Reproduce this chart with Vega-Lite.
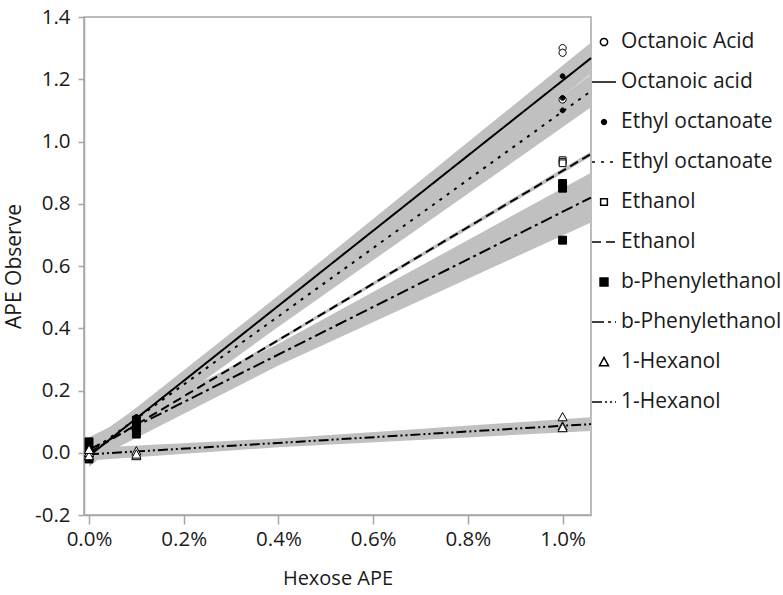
{
  "$schema": "https://vega.github.io/schema/vega-lite/v6.json",
  "width": 507,
  "height": 498,
  "autosize": "none",
  "padding": {"left": 84, "top": 17, "right": 192, "bottom": 80},
  "background": "white",
  "config": {
    "font": "Open Sans",
    "view": {"stroke": "#a6a6a6", "strokeWidth": 1.5},
    "axis": {
      "domainColor": "#a6a6a6", "domainWidth": 1.5, "tickColor": "#a6a6a6", "tickWidth": 1.5,
      "grid": false, "labelFont": "Open Sans", "labelFontSize": 20.5, "labelColor": "#1a1a1a",
      "titleFont": "Open Sans", "titleFontSize": 20, "titleFontWeight": "normal", "titleColor": "#1a1a1a"
    },
    "legend": {
      "labelFont": "Open Sans", "labelFontSize": 21, "labelColor": "#1a1a1a", "labelLimit": 220
    }
  },
  "datasets": {
    "pts": [
      {"series": "Octanoic Acid|p", "x": 0, "y": 0.03},
      {"series": "Octanoic Acid|p", "x": 0, "y": 0.0},
      {"series": "Octanoic Acid|p", "x": 0, "y": -0.01},
      {"series": "Octanoic Acid|p", "x": 0.001, "y": 0.11},
      {"series": "Octanoic Acid|p", "x": 0.001, "y": 0.10},
      {"series": "Octanoic Acid|p", "x": 0.001, "y": 0.09},
      {"series": "Octanoic Acid|p", "x": 0.01, "y": 1.30},
      {"series": "Octanoic Acid|p", "x": 0.01, "y": 1.285},
      {"series": "Octanoic Acid|p", "x": 0.01, "y": 1.135},
      {"series": "Ethyl octanoate|p", "x": 0, "y": 0.02},
      {"series": "Ethyl octanoate|p", "x": 0, "y": 0.0},
      {"series": "Ethyl octanoate|p", "x": 0, "y": -0.02},
      {"series": "Ethyl octanoate|p", "x": 0.001, "y": 0.115},
      {"series": "Ethyl octanoate|p", "x": 0.001, "y": 0.105},
      {"series": "Ethyl octanoate|p", "x": 0.001, "y": 0.095},
      {"series": "Ethyl octanoate|p", "x": 0.01, "y": 1.21},
      {"series": "Ethyl octanoate|p", "x": 0.01, "y": 1.14},
      {"series": "Ethyl octanoate|p", "x": 0.01, "y": 1.10},
      {"series": "Ethanol|p", "x": 0, "y": 0.01},
      {"series": "Ethanol|p", "x": 0, "y": 0.0},
      {"series": "Ethanol|p", "x": 0, "y": -0.02},
      {"series": "Ethanol|p", "x": 0.001, "y": 0.09},
      {"series": "Ethanol|p", "x": 0.001, "y": 0.085},
      {"series": "Ethanol|p", "x": 0.001, "y": 0.08},
      {"series": "Ethanol|p", "x": 0.01, "y": 0.94},
      {"series": "Ethanol|p", "x": 0.01, "y": 0.935},
      {"series": "Ethanol|p", "x": 0.01, "y": 0.93},
      {"series": "b-Phenylethanol|p", "x": 0, "y": 0.035},
      {"series": "b-Phenylethanol|p", "x": 0, "y": 0.01},
      {"series": "b-Phenylethanol|p", "x": 0, "y": -0.02},
      {"series": "b-Phenylethanol|p", "x": 0.001, "y": 0.105},
      {"series": "b-Phenylethanol|p", "x": 0.001, "y": 0.08},
      {"series": "b-Phenylethanol|p", "x": 0.001, "y": 0.06},
      {"series": "b-Phenylethanol|p", "x": 0.01, "y": 0.865},
      {"series": "b-Phenylethanol|p", "x": 0.01, "y": 0.85},
      {"series": "b-Phenylethanol|p", "x": 0.01, "y": 0.683},
      {"series": "1-Hexanol|p", "x": 0, "y": 0.0},
      {"series": "1-Hexanol|p", "x": 0, "y": -0.01},
      {"series": "1-Hexanol|p", "x": 0, "y": 0.01},
      {"series": "1-Hexanol|p", "x": 0.001, "y": 0.005},
      {"series": "1-Hexanol|p", "x": 0.001, "y": -0.01},
      {"series": "1-Hexanol|p", "x": 0.001, "y": -0.005},
      {"series": "1-Hexanol|p", "x": 0.01, "y": 0.115},
      {"series": "1-Hexanol|p", "x": 0.01, "y": 0.085},
      {"series": "1-Hexanol|p", "x": 0.01, "y": 0.08}
    ],
    "fits": [
      {"series": "Octanoic acid|l", "x": 0, "y": -0.01},
      {"series": "Octanoic acid|l", "x": 0.0106, "y": 1.268},
      {"series": "Ethyl octanoate|l", "x": 0, "y": 0.0},
      {"series": "Ethyl octanoate|l", "x": 0.0106, "y": 1.162},
      {"series": "Ethanol|l", "x": 0, "y": 0.0},
      {"series": "Ethanol|l", "x": 0.0106, "y": 0.96},
      {"series": "b-Phenylethanol|l", "x": 0, "y": 0.01},
      {"series": "b-Phenylethanol|l", "x": 0.0106, "y": 0.82},
      {"series": "1-Hexanol|l", "x": 0, "y": -0.005},
      {"series": "1-Hexanol|l", "x": 0.0106, "y": 0.092}
    ],
    "bands": [
      {"series": "Octanoic acid|l", "x": 0, "lo": -0.045, "hi": 0.025},
      {"series": "Octanoic acid|l", "x": 0.004, "lo": 0.44, "hi": 0.505},
      {"series": "Octanoic acid|l", "x": 0.0106, "lo": 1.218, "hi": 1.318},
      {"series": "Ethyl octanoate|l", "x": 0, "lo": -0.035, "hi": 0.035},
      {"series": "Ethyl octanoate|l", "x": 0.004, "lo": 0.405, "hi": 0.47},
      {"series": "Ethyl octanoate|l", "x": 0.0106, "lo": 1.11, "hi": 1.215},
      {"series": "Ethanol|l", "x": 0, "lo": -0.008, "hi": 0.008},
      {"series": "Ethanol|l", "x": 0.004, "lo": 0.357, "hi": 0.367},
      {"series": "Ethanol|l", "x": 0.0106, "lo": 0.952, "hi": 0.968},
      {"series": "b-Phenylethanol|l", "x": 0, "lo": -0.03, "hi": 0.05},
      {"series": "b-Phenylethanol|l", "x": 0.004, "lo": 0.28, "hi": 0.35},
      {"series": "b-Phenylethanol|l", "x": 0.0106, "lo": 0.74, "hi": 0.9},
      {"series": "1-Hexanol|l", "x": 0, "lo": -0.025, "hi": 0.015},
      {"series": "1-Hexanol|l", "x": 0.004, "lo": 0.018, "hi": 0.046},
      {"series": "1-Hexanol|l", "x": 0.0106, "lo": 0.07, "hi": 0.114}
    ]
  },
  "encoding": {
    "x": {
      "field": "x", "type": "quantitative",
      "scale": {"domain": [-0.000106, 0.0106], "nice": false, "zero": false},
      "axis": {"title": "Hexose APE", "values": [0, 0.002, 0.004, 0.006, 0.008, 0.01], "format": ".1%", "tickSize": 9, "labelPadding": 5, "titlePadding": 19}
    }
  },
  "layer": [
    {
      "data": {"name": "bands"},
      "mark": {"type": "area", "color": "#c0c0c0", "opacity": 1},
      "encoding": {
        "y": {"field": "lo", "type": "quantitative", "scale": {"domain": [-0.2, 1.4], "nice": false, "zero": false},
          "axis": {"title": "APE Observe", "titleFontSize": 21, "values": [-0.2, 0, 0.2, 0.4, 0.6, 0.8, 1.0, 1.2, 1.4], "format": ".1f", "labelExpr": "replace(datum.label, '\u2212', '-')", "tickSize": 6, "labelPadding": 8, "titlePadding": 10}},
        "y2": {"field": "hi"},
        "detail": {"field": "series", "type": "nominal"}
      }
    },
    {
      "data": {"name": "fits"},
      "mark": {"type": "line", "color": "black", "strokeWidth": 2},
      "encoding": {
        "y": {"field": "y", "type": "quantitative"},
        "strokeDash": {
          "field": "series", "type": "nominal",
          "scale": {
            "domain": ["Octanoic Acid|p", "Octanoic acid|l", "Ethyl octanoate|p", "Ethyl octanoate|l", "Ethanol|p", "Ethanol|l", "b-Phenylethanol|p", "b-Phenylethanol|l", "1-Hexanol|p", "1-Hexanol|l"],
            "range": [[1, 0], [1, 0], [1, 0], [3, 6], [1, 0], [9, 5], [1, 0], [12, 4, 3, 4], [1, 0], [10, 3, 2, 3, 2, 3]]
          },
          "legend": {
            "title": null, "orient": "none", "legendX": 507, "legendY": 12, "padding": 0,
            "rowPadding": 17, "labelOffset": 4, "symbolSize": 576, "symbolStrokeColor": "black", "symbolStrokeWidth": 1.5,
            "labelLimit": 220,
            "labelExpr": "split(datum.label, '|')[0]",
            "encode": {"symbols": {"update": {"stroke": {"value": "black"}, "strokeWidth": {"value": 1.5}}}}
          }
        }
      }
    },
    {
      "data": {"name": "pts"},
      "mark": {"type": "point", "stroke": "black", "strokeWidth": 1, "opacity": 1, "size": 576},
      "encoding": {
        "y": {"field": "y", "type": "quantitative"},
        "shape": {
          "field": "series", "type": "nominal",
          "scale": {
            "domain": ["Octanoic Acid|p", "Octanoic acid|l", "Ethyl octanoate|p", "Ethyl octanoate|l", "Ethanol|p", "Ethanol|l", "b-Phenylethanol|p", "b-Phenylethanol|l", "1-Hexanol|p", "1-Hexanol|l"],
            "range": [
              "M-0.3,0A0.3,0.3,0,1,0,0.3,0A0.3,0.3,0,1,0,-0.3,0Z",
              "M-1,0H1",
              "M-0.2,0A0.2,0.2,0,1,0,0.2,0A0.2,0.2,0,1,0,-0.2,0Z",
              "M-1,0H1",
              "M-0.28,-0.28H0.28V0.28H-0.28Z",
              "M-1,0H1",
              "M-0.33,-0.33H0.33V0.33H-0.33Z",
              "M-1,0H1",
              "M0,-0.38L0.38,0.32H-0.38Z",
              "M-1,0H1"
            ]
          },
          "legend": {
            "title": null, "orient": "none", "legendX": 507, "legendY": 12, "padding": 0,
            "rowPadding": 17, "labelOffset": 4, "symbolSize": 576, "symbolStrokeColor": "black", "symbolStrokeWidth": 1.5,
            "labelLimit": 220,
            "labelExpr": "split(datum.label, '|')[0]",
            "encode": {"symbols": {"update": {"stroke": {"value": "black"}, "strokeWidth": {"value": 1.5}}}}
          }
        },
        "fill": {
          "field": "series", "type": "nominal",
          "scale": {
            "domain": ["Octanoic Acid|p", "Octanoic acid|l", "Ethyl octanoate|p", "Ethyl octanoate|l", "Ethanol|p", "Ethanol|l", "b-Phenylethanol|p", "b-Phenylethanol|l", "1-Hexanol|p", "1-Hexanol|l"],
            "range": ["white", "transparent", "black", "transparent", "white", "transparent", "black", "transparent", "white", "transparent"]
          },
          "legend": {
            "title": null, "orient": "none", "legendX": 507, "legendY": 12, "padding": 0,
            "rowPadding": 17, "labelOffset": 4, "symbolSize": 576, "symbolStrokeColor": "black", "symbolStrokeWidth": 1.5,
            "labelLimit": 220,
            "labelExpr": "split(datum.label, '|')[0]",
            "encode": {"symbols": {"update": {"stroke": {"value": "black"}, "strokeWidth": {"value": 1.5}}}}
          }
        }
      }
    }
  ]
}
